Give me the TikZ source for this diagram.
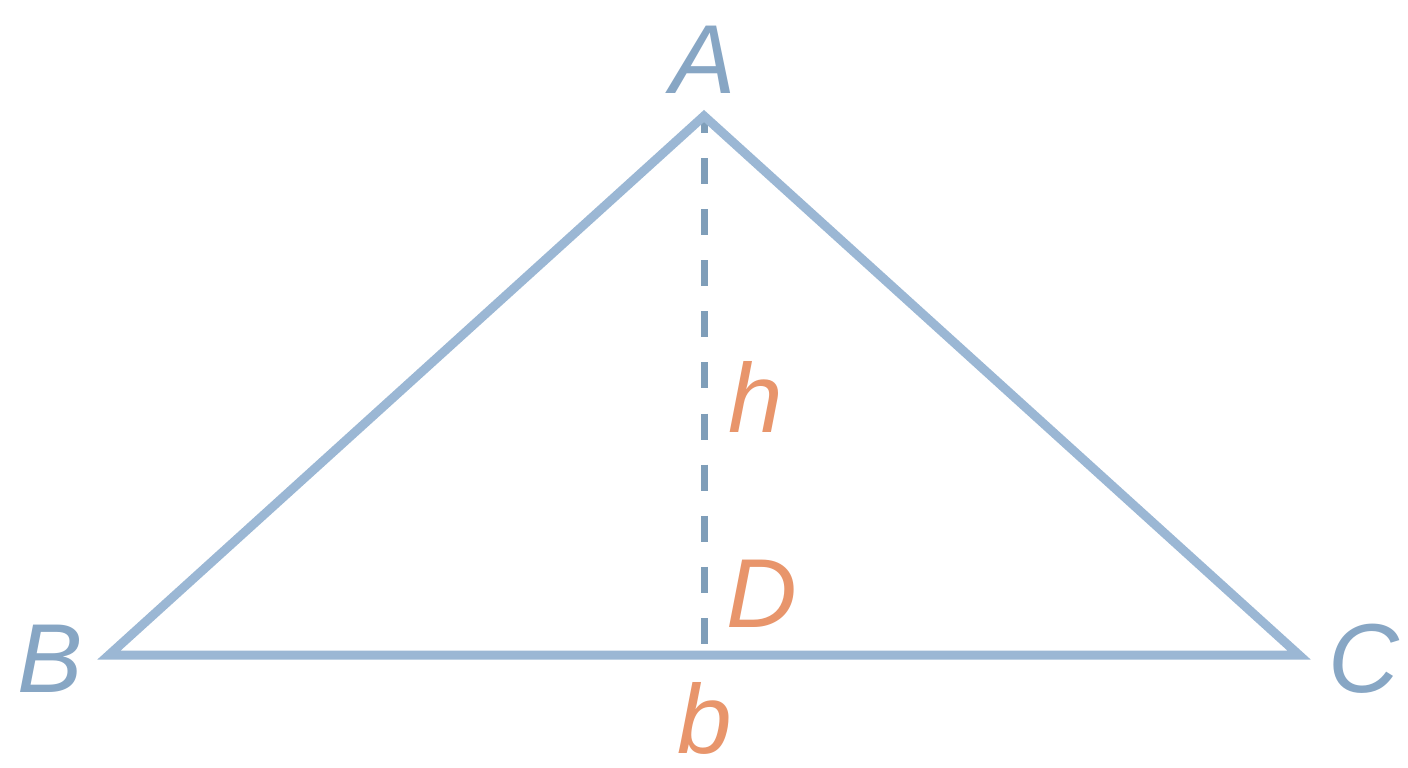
\documentclass[tikz,border=0pt]{standalone}
\usepackage{fontspec}
\setmainfont{Liberation Sans}
\definecolor{tri}{HTML}{9BB7D4}
\definecolor{dsh}{HTML}{7F9EB9}
\definecolor{lbl}{HTML}{87A6C4}
\definecolor{org}{HTML}{E8956B}
\begin{document}
\begin{tikzpicture}[x=1pt,y=-1pt,
  lab/.style={inner sep=0pt,anchor=base,font=\fontsize{98}{98}\selectfont\itshape},
  vlab/.style={lab,text=lbl},
  olab/.style={lab,text=org}]
\useasboundingbox[fill=white] (0,0) rectangle (1408,768);
\coordinate (A) at (704,116);
\coordinate (B) at (109,655);
\coordinate (C) at (1299,655);
\coordinate (D) at (704,644);
\draw[dsh,line width=7pt,dash pattern=on 26pt off 25.11pt,dash phase=9.1pt] (A) -- (D);
\draw[tri,line width=9pt,line join=miter] (B) -- (A) -- (C) -- cycle;
\node[vlab] (la) at (703,93) {A};
\node[vlab] (lb) at (50,692) {B};
\node[vlab] (lc) at (1364,692) {C};
\node[olab] (lh) at (756,432) {h};
\node[olab] (ld) at (762,627) {D};
\node[olab] (lbb) at (705,753) {b};
\end{tikzpicture}
\end{document}
